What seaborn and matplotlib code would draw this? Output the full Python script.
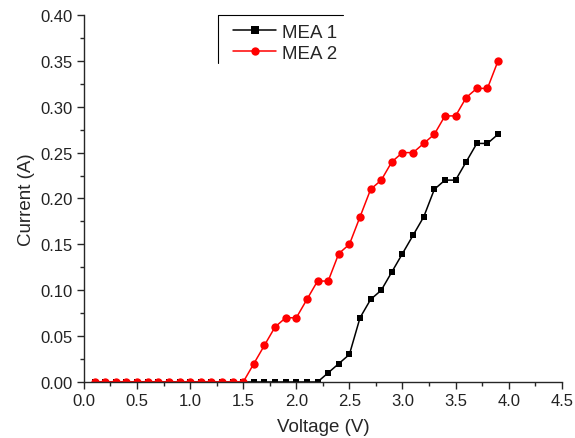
import numpy as np
import pandas as pd
import matplotlib
matplotlib.use("Agg")
import matplotlib.pyplot as plt
import seaborn as sns

# Data
voltage = [round(0.1 * i, 1) for i in range(1, 40)]
mea1_current = [0.00] * 22 + [0.01, 0.02, 0.03, 0.07, 0.09, 0.10, 0.12, 0.14, 0.16,
                              0.18, 0.21, 0.22, 0.22, 0.24, 0.26, 0.26, 0.27]
mea2_current = [0.00] * 15 + [0.02, 0.04, 0.06, 0.07, 0.07, 0.09, 0.11, 0.11, 0.14,
                              0.15, 0.18, 0.21, 0.22, 0.24, 0.25, 0.25, 0.26, 0.27,
                              0.29, 0.29, 0.31, 0.32, 0.32, 0.35]
series_names = ["MEA 1", "MEA 2"]

df = pd.DataFrame({
    "Voltage": voltage * 2,
    "Current": mea1_current + mea2_current,
    "Sample": [series_names[0]] * len(voltage) + [series_names[1]] * len(voltage),
})

sns.set_style("ticks")
plt.rcParams["font.family"] = ["Liberation Sans", "DejaVu Sans"]

fig = plt.figure(figsize=(5.75, 4.39), dpi=100)
ax = fig.add_axes([0.146, 0.1276, 0.831, 0.836])

sns.lineplot(data=df, x="Voltage", y="Current", hue="Sample", style="Sample",
             palette=["black", "red"], markers=["s", "o"], dashes=False,
             markersize=6, markeredgewidth=0, linewidth=1.1, ax=ax)

# square a bit smaller than the circle
for line in ax.lines:
    line.set_clip_on(True)
    if line.get_marker() == "s":
        line.set_markersize(4.8)

ax.set_xlim(0, 4.5)
ax.set_ylim(0, 0.40)
ax.set_xticks(np.arange(0, 4.51, 0.5))
ax.set_yticks(np.arange(0, 0.401, 0.05))
ax.xaxis.set_major_formatter(matplotlib.ticker.FormatStrFormatter("%.1f"))
ax.yaxis.set_major_formatter(matplotlib.ticker.FormatStrFormatter("%.2f"))
ax.xaxis.set_minor_locator(matplotlib.ticker.AutoMinorLocator(2))
ax.yaxis.set_minor_locator(matplotlib.ticker.AutoMinorLocator(2))
ax.tick_params(which="major", direction="out", length=5, width=1, labelsize=12,
               labelcolor="#222222", pad=3)
ax.tick_params(which="minor", direction="out", length=3, width=1)
for s in ["left", "bottom"]:
    ax.spines[s].set_linewidth(1)
sns.despine(ax=ax)

ax.set_xlabel("Voltage (V)", fontsize=13.5, labelpad=7)
ax.set_ylabel("Current (A)", fontsize=13.5, labelpad=4)

leg = ax.legend(loc="upper left", bbox_to_anchor=(0.285, 1.012), frameon=False,
                fontsize=13.5, handlelength=2.3, borderpad=0.2,
                labelspacing=0.2, handletextpad=0.3)
leg.set_title(None)
for h in leg.legend_handles:
    h.set_markersize(6)
    h.set_linewidth(1.1)

# the original legend box only shows its top and left edges
ax.plot([0.28, 0.542], [1.0, 1.0], color="black", lw=0.8,
        transform=ax.transAxes, clip_on=False)
ax.plot([0.28, 0.28], [1.0, 0.869], color="black", lw=0.8,
        transform=ax.transAxes, clip_on=False)

fig.savefig("out.png", dpi=100)
